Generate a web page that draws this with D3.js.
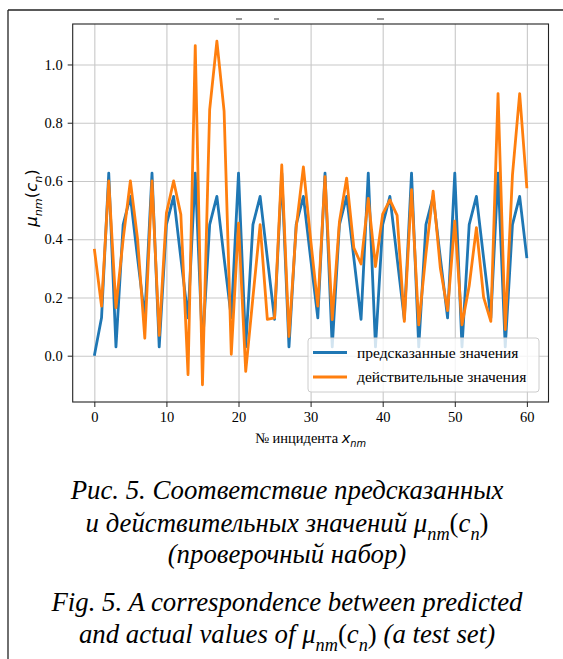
<!DOCTYPE html>
<html>
<head>
<meta charset="utf-8">
<script src="https://cdn.jsdelivr.net/npm/d3@7/dist/d3.min.js"></script>
<style>
  body { margin: 0; background: #fff; }
  svg { display: block; }
  .grid line { stroke: #c8c8c8; stroke-width: 1.1px; }
  .grid path { display: none; }
</style>
</head>
<body>
<svg width="563" height="659"></svg>
<script>
// ***********************************
// Data

// incident number on the x axis
var incidents = d3.range(0, 61);

// predicted values (blue)
var predicted = [
  0.00, 0.13, 0.627, 0.03, 0.45, 0.547, 0.335, 0.13, 0.627, 0.03,
  0.45, 0.547, 0.335, 0.13, 0.627, 0.03, 0.45, 0.547, 0.335, 0.13,
  0.627, 0.03, 0.45, 0.547, 0.335, 0.125, 0.627, 0.03, 0.45, 0.547,
  0.335, 0.13, 0.627, 0.03, 0.45, 0.547, 0.335, 0.125, 0.627, 0.03,
  0.45, 0.547, 0.335, 0.125, 0.627, 0.03, 0.45, 0.547, 0.335, 0.13,
  0.627, 0.03, 0.45, 0.547, 0.335, 0.13, 0.627, 0.03, 0.45, 0.547,
  0.335
];

// actual values (orange)
var actual = [
  0.367, 0.17, 0.60, 0.165, 0.40, 0.60, 0.40, 0.06, 0.60, 0.07,
  0.49, 0.60, 0.485, -0.065, 1.065, -0.10, 0.845, 1.08, 0.84, 0.005,
  0.455, -0.054, 0.20, 0.45, 0.125, 0.13, 0.655, 0.066, 0.44, 0.648,
  0.40, 0.17, 0.615, 0.124, 0.46, 0.61, 0.37, 0.315, 0.54, 0.306,
  0.486, 0.535, 0.482, 0.118, 0.57, 0.106, 0.35, 0.565, 0.30, 0.155,
  0.462, 0.106, 0.24, 0.44, 0.20, 0.118, 0.90, 0.09, 0.62, 0.90,
  0.575
];

var xTicks = [0, 10, 20, 30, 40, 50, 60];
var yTicks = [0.0, 0.2, 0.4, 0.6, 0.8, 1.0];
var seriesNames = ["предсказанные значения", "действительные значения"];
var seriesColors = ["#1f77b4", "#ff7f0e"];

// ***********************************
// Basic layout

var svg = d3.select("svg"),
  width = +svg.attr("width"),
  height = +svg.attr("height");

var plot = { left: 72.7, right: 548.5, top: 24, bottom: 402 };

// matplotlib-like 5% margins around the data
var xExt = d3.extent(incidents);
var xPad = (xExt[1] - xExt[0]) * 0.05;
var yExt = d3.extent(predicted.concat(actual));
var yPad = (yExt[1] - yExt[0]) * 0.05;

var x = d3.scaleLinear()
  .domain([xExt[0] - xPad, xExt[1] + xPad])
  .range([plot.left, plot.right]);

var y = d3.scaleLinear()
  .domain([yExt[0] - yPad, yExt[1] + yPad])
  .range([plot.bottom, plot.top]);

var serif = "Liberation Serif";
var mathFont = "DejaVu Sans";

// page frame (piece of the paper layout)
svg.append("line")
  .attr("x1", 8).attr("x2", width).attr("y1", 10).attr("y2", 10)
  .attr("stroke", "#222").attr("stroke-width", 1.3);
svg.append("line")
  .attr("x1", 8).attr("x2", 8).attr("y1", 10).attr("y2", height)
  .attr("stroke", "#222").attr("stroke-width", 1.3);

// remains of the cut text line at the top
[[236, 242], [274, 279], [377, 384]].forEach(function(s) {
  svg.append("line")
    .attr("x1", s[0]).attr("x2", s[1]).attr("y1", 19).attr("y2", 19)
    .attr("stroke", "#555").attr("stroke-width", 1.2);
});

// ***********************************
// Grid

svg.append("g")
  .attr("class", "grid")
  .attr("transform", "translate(0," + plot.bottom + ")")
  .call(d3.axisBottom(x).tickValues(xTicks)
    .tickSize(-(plot.bottom - plot.top)).tickFormat(""));

svg.append("g")
  .attr("class", "grid")
  .attr("transform", "translate(" + plot.left + ",0)")
  .call(d3.axisLeft(y).tickValues(yTicks)
    .tickSize(-(plot.right - plot.left)).tickFormat(""));

// ***********************************
// Lines

svg.append("clipPath").attr("id", "clip")
  .append("rect")
  .attr("x", plot.left).attr("y", plot.top)
  .attr("width", plot.right - plot.left)
  .attr("height", plot.bottom - plot.top);

var line = d3.line()
  .x(function(d, i) { return x(incidents[i]); })
  .y(function(d) { return y(d); });

var gLines = svg.append("g").attr("clip-path", "url(#clip)");
[predicted, actual].forEach(function(series, k) {
  gLines.append("path")
    .datum(series)
    .attr("fill", "none")
    .attr("stroke", seriesColors[k])
    .attr("stroke-width", 2.8)
    .attr("stroke-linejoin", "round")
    .attr("d", line);
});

// ***********************************
// Axes and frame

var xAxis = svg.append("g")
  .attr("transform", "translate(0," + plot.bottom + ")")
  .call(d3.axisBottom(x).tickValues(xTicks).tickSize(5).tickSizeOuter(0).tickPadding(5));

var yAxis = svg.append("g")
  .attr("transform", "translate(" + plot.left + ",0)")
  .call(d3.axisLeft(y).tickValues(yTicks).tickSize(5).tickSizeOuter(0)
    .tickPadding(5).tickFormat(d3.format(".1f")));

[xAxis, yAxis].forEach(function(a) {
  a.attr("font-family", serif).attr("font-size", 14.5);
  a.select(".domain").remove();
  a.selectAll(".tick line").attr("stroke", "#222").attr("stroke-width", 1);
  a.selectAll(".tick text").attr("fill", "#000");
});

svg.append("rect")
  .attr("x", plot.left).attr("y", plot.top)
  .attr("width", plot.right - plot.left)
  .attr("height", plot.bottom - plot.top)
  .attr("fill", "none")
  .attr("stroke", "#222")
  .attr("stroke-width", 1.1);

// ***********************************
// Rich text helper: parts are [text, options]

function richText(parent, px, py, size, parts, anchor) {
  var t = parent.append("text")
    .attr("x", px).attr("y", py)
    .attr("text-anchor", anchor || "middle")
    .attr("font-size", size);
  var shift = 0;
  parts.forEach(function(p) {
    var o = p[1] || {};
    var want = o.sub ? size * 0.28 : 0;
    t.append("tspan")
      .attr("dy", want - shift)
      .attr("font-family", o.font || serif)
      .attr("font-style", o.italic ? "italic" : "normal")
      .attr("font-size", o.sub ? size * 0.68 : size)
      .text(p[0]);
    shift = want;
  });
  return t;
}

// x axis label
richText(svg, (plot.left + plot.right) / 2, 443, 14.5, [
  ["№ инцидента "],
  ["x", { font: mathFont, italic: true }],
  ["nm", { font: mathFont, italic: true, sub: true }]
]);

// y axis label
var gYLabel = svg.append("g")
  .attr("transform", "translate(37,198) rotate(-90)");
richText(gYLabel, 0, 0, 16.5, [
  ["μ", { font: mathFont, italic: true }],
  ["nm", { font: mathFont, italic: true, sub: true }],
  ["(", { font: mathFont }],
  ["c", { font: mathFont, italic: true }],
  ["n", { font: mathFont, italic: true, sub: true }],
  [")", { font: mathFont }]
]);

// ***********************************
// Legend

var gLegend = svg.append("g");
gLegend.append("rect")
  .attr("x", 308).attr("y", 338)
  .attr("width", 231).attr("height", 54)
  .attr("rx", 3)
  .attr("fill", "#fff").attr("fill-opacity", 0.8)
  .attr("stroke", "#cccccc").attr("stroke-width", 1);

seriesNames.forEach(function(name, k) {
  var ly = 352.5 + k * 24.5;
  gLegend.append("line")
    .attr("x1", 313).attr("x2", 347).attr("y1", ly).attr("y2", ly)
    .attr("stroke", seriesColors[k]).attr("stroke-width", 2.8);
  gLegend.append("text")
    .attr("x", 357).attr("y", ly + 5)
    .attr("font-family", serif)
    .attr("font-size", 15.5)
    .text(name);
});

// ***********************************
// Figure caption

var cx = 287;
var capSize = 26.8;
var it = { italic: true };
var itSub = { italic: true, sub: true };

richText(svg, cx, 499, capSize, [["Рис. 5. Соответствие предсказанных", it]]);
richText(svg, cx, 532, capSize, [
  ["и действительных значений ", it],
  ["μ", it], ["nm", itSub], ["(", {}], ["c", it], ["n", itSub], [")", {}]
]);
richText(svg, cx, 563, capSize, [["(проверочный набор)", it]]);
richText(svg, cx, 611, capSize, [["Fig. 5. A correspondence between predicted", it]]);
richText(svg, cx, 643, capSize, [
  ["and actual values of ", it],
  ["μ", it], ["nm", itSub], ["(", {}], ["c", it], ["n", itSub], [")", {}],
  [" (a test set)", it]
]);
</script>
</body>
</html>
